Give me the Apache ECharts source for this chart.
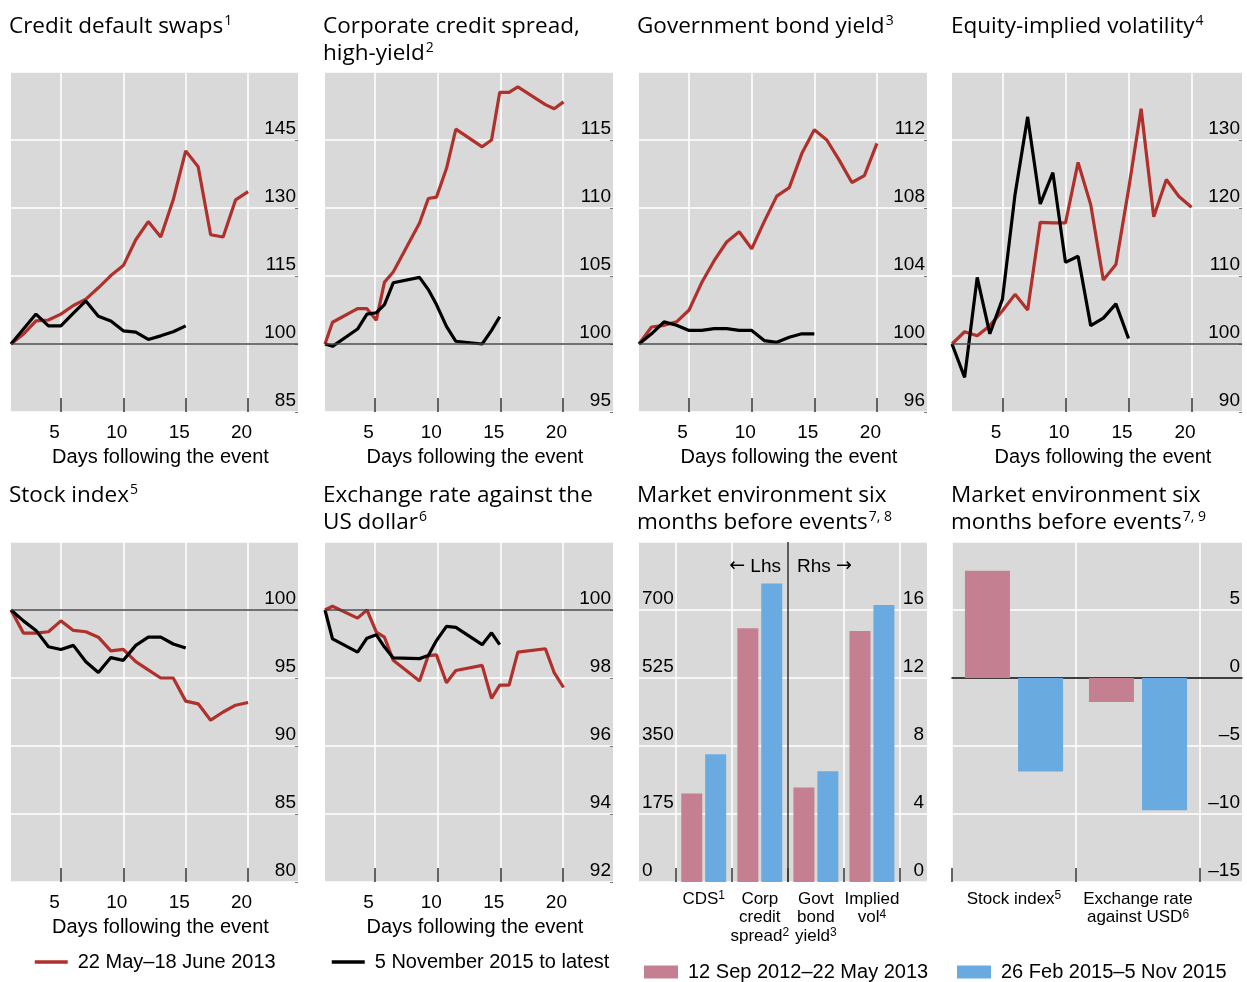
<!DOCTYPE html>
<html>
<head>
<meta charset="utf-8">
<title>Market reactions after two events</title>
<script src="https://cdn.jsdelivr.net/npm/echarts@6/dist/echarts.min.js"></script>
<style>
  html, body { margin: 0; padding: 0; background: #ffffff; }
  #chart { width: 1247px; height: 982px; }
</style>
</head>
<body>
<div id="chart"></div>
<script>
// ---- Series names ----
const LABEL_2013 = '22 May–18 June 2013';
const LABEL_2015 = '5 November 2015 to latest';
const BAR_LABEL_A = '12 Sep 2012–22 May 2013';
const BAR_LABEL_B = '26 Feb 2015–5 Nov 2015';

// ---- Day positions ----
const days2013 = [1, 2, 3, 4, 5, 6, 7, 8, 9, 10, 11, 12, 13, 14, 15, 16, 17, 18, 19, 20];
const days2015 = [1, 2, 3, 4, 5, 6, 7, 8, 9, 10, 11, 12, 13, 14, 15];
// spread and exchange-rate panels are plotted on a calendar-spaced day scale
const calDays2013 = [1, 1.6, 3.6, 4.35, 5.1, 5.75, 6.45, 8.55, 9.25, 9.9, 10.7, 11.45, 13.55, 14.3, 14.95, 15.7, 16.4, 18.6, 19.3, 20.05];
const calDays2015 = [1, 1.6, 3.6, 4.35, 5.1, 5.75, 6.45, 8.55, 9.25, 9.9, 10.7, 11.45, 13.55, 14.3, 14.95];
const dayTicks = [5, 10, 15, 20];

// ---- Indexed paths (event day = 100) ----
const cds2013 = [100, 102.2, 105.1, 105.3, 106.6, 108.5, 109.9, 112.4, 115.1, 117.3, 123.0, 127.0, 123.6, 131.8, 142.6, 139.1, 124.1, 123.6, 131.8, 133.6];
const cds2015 = [100, 103.3, 106.6, 104.0, 104.0, 106.8, 109.5, 106.1, 105.1, 102.9, 102.6, 101.0, 101.8, 102.7, 104.0];

const hy2013 = [100, 101.6, 102.6, 102.6, 101.75, 104.55, 105.3, 108.9, 110.7, 110.8, 112.9, 115.8, 114.5, 115.0, 118.5, 118.5, 118.9, 117.6, 117.3, 117.8];
const hy2015 = [100, 99.83, 101.1, 102.2, 102.3, 102.9, 104.5, 104.9, 104.0, 102.9, 101.3, 100.2, 100.0, 101.0, 102.0];

const govt2013 = [100, 101.0, 101.1, 101.3, 102.0, 103.6, 104.9, 106.0, 106.6, 105.6, 107.2, 108.7, 109.2, 111.2, 112.6, 112.0, 110.8, 109.5, 109.9, 111.8];
const govt2015 = [100, 100.6, 101.3, 101.1, 100.8, 100.8, 100.9, 100.9, 100.8, 100.8, 100.2, 100.1, 100.4, 100.6, 100.6];

const vol2013 = [100, 101.8, 101.2, 102.7, 104.9, 107.3, 105.0, 117.9, 117.8, 117.8, 126.7, 120.5, 109.4, 111.7, 122.7, 134.6, 118.7, 124.2, 121.7, 120.1];
const vol2015 = [100, 95.1, 109.8, 101.5, 106.6, 122.0, 133.4, 120.6, 125.2, 112.0, 112.9, 102.7, 103.8, 105.9, 100.8];

const stock2013 = [100, 98.3, 98.3, 98.4, 99.2, 98.5, 98.4, 98.0, 97.0, 97.1, 96.2, 95.6, 95.0, 95.0, 93.3, 93.1, 91.9, 92.5, 93.0, 93.2];
const stock2015 = [100, 99.2, 98.5, 97.3, 97.1, 97.4, 96.2, 95.4, 96.5, 96.3, 97.4, 98.0, 98.0, 97.5, 97.2];

const fx2013 = [100, 100.11, 99.76, 100.0, 99.35, 99.2, 98.52, 97.91, 98.66, 98.68, 97.86, 98.22, 98.37, 97.40, 97.79, 97.79, 98.76, 98.86, 98.16, 97.72];
const fx2015 = [100, 99.15, 98.76, 99.17, 99.27, 98.91, 98.59, 98.57, 98.66, 99.10, 99.52, 99.49, 98.98, 99.33, 98.98];

// ---- Market environment before the events ----
const riskCats = ['CDS', 'Corp credit spread', 'Govt bond yield', 'Implied vol'];
const riskNotes = ['1', '2', '3', '4'];
const riskLhs2013 = [228, 653];      // CDS, corporate spread (left scale)
const riskLhs2015 = [329, 768];
const riskRhs2013 = [5.56, 14.77];   // govt bond yield, implied vol (right scale)
const riskRhs2015 = [6.52, 16.29];

const mktCats = ['Stock index', 'Exchange rate against USD'];
const mktLines = [['Stock index'], ['Exchange rate', 'against USD']];
const mktNotes = ['5', '6'];
const mkt2013 = [7.88, -1.76];
const mkt2015 = [-6.88, -9.73];

// ---- Style ----
const AXIS_FONT = 'Liberation Sans, Arial, sans-serif';
const TITLE_FONT = 'Open Sans, Noto Sans, sans-serif';
const RED = '#b0302c';
const PINK = '#c48091';
const BLUE = '#69abe0';
const PANEL = '#d9d9d9';
const LINE_W = 3.2;
const COLS = [[11, 298], [325, 613], [639, 927], [952, 1242]];
const ROWS = [[72, 412], [542, 882]];

const txt = { fontFamily: AXIS_FONT, fontSize: 19, color: '#000' };
const txtWide = { fontFamily: AXIS_FONT, fontSize: 20, color: '#000' };
const zip = (xs, ys) => ys.map((v, i) => [xs[i], v]);
const minus = v => String(v).replace('-', '\u2013');

const grids = [], xAxes = [], yAxes = [], series = [];

function panelGrid(col, row, x0, x1, withBg) {
  const left = x0 != null ? x0 : COLS[col][0];
  const right = x1 != null ? x1 : COLS[col][1];
  grids.push({
    left: left, width: right - left,
    top: ROWS[row][0], height: ROWS[row][1] - ROWS[row][0],
    show: !!withBg, backgroundColor: PANEL, borderWidth: 0,
    containLabel: false, outerBoundsMode: 'none'
  });
  return grids.length - 1;
}

function addLinePanel(col, row, yMin, yMax, yStep, xs13, v13, xs15, v15) {
  const gi = panelGrid(col, row, null, null, true);
  const xi = xAxes.push({
    gridIndex: gi, type: 'value', min: 1, max: 24,
    axisLine: { show: false, onZero: false },
    axisTick: { show: true, inside: true, length: 14, customValues: dayTicks, lineStyle: { color: '#333', width: 1.5 } },
    axisLabel: Object.assign({ customValues: dayTicks, margin: 11, padding: [0, 13, 0, 0] }, txt),
    splitLine: { show: true, lineStyle: { color: '#fff', width: 1.5 } },
    name: 'Days following the event', nameLocation: 'middle', nameGap: 35,
    nameTextStyle: Object.assign({ padding: [0, 0, 0, 12] }, txtWide)
  }) - 1;
  const yi = yAxes.push({
    gridIndex: gi, type: 'value', position: 'right', min: yMin, max: yMax, interval: yStep,
    axisLine: { show: false, onZero: false },
    axisTick: { show: true, inside: true, length: 3, lineStyle: { color: '#777' } },
    axisLabel: Object.assign({ inside: true, margin: 2, verticalAlign: 'bottom', padding: [0, 0, 2, 0], showMaxLabel: false }, txt),
    splitLine: { show: true, lineStyle: { color: '#fff', width: 1.5 } }
  }) - 1;
  series.push({
    type: 'line', name: LABEL_2013, xAxisIndex: xi, yAxisIndex: yi,
    data: zip(xs13, v13), symbol: 'none', color: RED,
    lineStyle: { width: LINE_W, color: RED },
    markLine: {
      silent: true, symbol: ['none', 'none'], label: { show: false },
      lineStyle: { color: '#444', width: 1.5, type: 'solid' },
      data: [{ yAxis: 100 }]
    }
  });
  series.push({
    type: 'line', name: LABEL_2015, xAxisIndex: xi, yAxisIndex: yi,
    data: zip(xs15, v15), symbol: 'none', color: '#000',
    lineStyle: { width: LINE_W, color: '#000' }
  });
}

addLinePanel(0, 0, 85, 160, 15, days2013, cds2013, days2015, cds2015);
addLinePanel(1, 0, 95, 120, 5, calDays2013, hy2013, calDays2015, hy2015);
addLinePanel(2, 0, 96, 116, 4, days2013, govt2013, days2015, govt2015);
addLinePanel(3, 0, 90, 140, 10, days2013, vol2013, days2015, vol2015);
addLinePanel(0, 1, 80, 105, 5, days2013, stock2013, days2015, stock2015);
addLinePanel(1, 1, 92, 102, 2, calDays2013, fx2013, calDays2015, fx2015);

// ---- Bar panel: risk measures on two scales ----
const catRich = {
  a: { fontFamily: AXIS_FONT, fontSize: 17, color: '#000', lineHeight: 18.5 },
  s: { fontFamily: AXIS_FONT, fontSize: 12, color: '#000', verticalAlign: 'top', lineHeight: 12 }
};
function catLabel(lines, note) {
  return lines.map((l, i) => '{a|' + l + '}' + (i === lines.length - 1 ? '{s|' + note + '}' : '')).join('\n');
}
const catTick = { show: true, inside: true, length: 14, lineStyle: { color: '#333', width: 1.5 } };

const gA7 = panelGrid(2, 1, null, null, true);
xAxes.push({ gridIndex: gA7, type: 'value', min: 0, max: 1, show: false });
yAxes.push({
  gridIndex: gA7, type: 'value', position: 'left', min: 0, max: 875, interval: 175,
  axisLine: { show: false, onZero: false }, axisTick: { show: false },
  axisLabel: Object.assign({ inside: true, margin: 3, verticalAlign: 'bottom', padding: [0, 0, 2, 0], showMaxLabel: false }, txt),
  splitLine: { show: true, lineStyle: { color: '#fff', width: 1.5 } }
});
yAxes.push({
  gridIndex: gA7, type: 'value', position: 'right', min: 0, max: 20, interval: 4,
  axisLine: { show: false, onZero: false }, axisTick: { show: false },
  axisLabel: Object.assign({ inside: true, margin: 3, verticalAlign: 'bottom', padding: [0, 0, 2, 0], showMaxLabel: false }, txt),
  splitLine: { show: false }
});
const gB7 = panelGrid(2, 1, 675.7, 900, false);
const xB7 = xAxes.push({
  gridIndex: gB7, type: 'category', data: riskCats,
  axisLine: { show: false, onZero: false }, axisTick: catTick,
  axisLabel: {
    interval: 0, margin: 8, rich: catRich,
    formatter: (v, i) => catLabel(v.split(' '), riskNotes[i])
  },
  splitLine: { show: true, lineStyle: { color: ['#fff', '#fff', '#333', '#fff', '#fff'], width: 1.5 } }
}) - 1;
const xB7b = xAxes.push({ gridIndex: gB7, type: 'category', data: riskCats, show: false }) - 1;
const yB7L = yAxes.push({ gridIndex: gB7, type: 'value', min: 0, max: 875, show: false, splitLine: { show: false } }) - 1;
const yB7R = yAxes.push({ gridIndex: gB7, type: 'value', min: 0, max: 20, show: false, splitLine: { show: false } }) - 1;

const pad = (vals, before) => before ? ['-', '-'].concat(vals) : vals.concat(['-', '-']);
const barBase = { type: 'bar', barWidth: 21, barGap: '14%' };
series.push(Object.assign({ name: BAR_LABEL_A, xAxisIndex: xB7, yAxisIndex: yB7L, data: pad(riskLhs2013, false), color: PINK }, barBase));
series.push(Object.assign({ name: BAR_LABEL_B, xAxisIndex: xB7, yAxisIndex: yB7L, data: pad(riskLhs2015, false), color: BLUE }, barBase));
series.push(Object.assign({ name: BAR_LABEL_A, xAxisIndex: xB7b, yAxisIndex: yB7R, data: pad(riskRhs2013, true), color: PINK }, barBase));
series.push(Object.assign({ name: BAR_LABEL_B, xAxisIndex: xB7b, yAxisIndex: yB7R, data: pad(riskRhs2015, true), color: BLUE }, barBase));

// ---- Bar panel: stock index and exchange rate ----
const gA8 = panelGrid(3, 1, null, null, true);
xAxes.push({
  gridIndex: gA8, type: 'value', min: 0, max: 1,
  axisLine: { show: true, onZero: true, lineStyle: { color: '#000', width: 1.5 } },
  axisTick: { show: false }, axisLabel: { show: false }, splitLine: { show: false }
});
yAxes.push({
  gridIndex: gA8, type: 'value', position: 'right', min: -15, max: 10, interval: 5,
  axisLine: { show: false, onZero: false }, axisTick: { show: false },
  axisLabel: Object.assign({ inside: true, margin: 2, verticalAlign: 'bottom', padding: [0, 0, 2, 0], showMaxLabel: false, formatter: minus }, txt),
  splitLine: { show: true, lineStyle: { color: '#fff', width: 1.5 } }
});
const gB8 = panelGrid(3, 1, 952, 1200, false);
const xB8 = xAxes.push({
  gridIndex: gB8, type: 'category', data: mktCats,
  axisLine: { show: false, onZero: false }, axisTick: catTick,
  axisLabel: { interval: 0, margin: 8, rich: catRich, formatter: (v, i) => catLabel(mktLines[i], mktNotes[i]) },
  splitLine: { show: true, lineStyle: { color: '#fff', width: 1.5 } }
}) - 1;
const yB8 = yAxes.push({ gridIndex: gB8, type: 'value', min: -15, max: 10, show: false, splitLine: { show: false } }) - 1;
const mktBase = { type: 'bar', barWidth: 45, barGap: '18%' };
series.push(Object.assign({ name: BAR_LABEL_A, xAxisIndex: xB8, yAxisIndex: yB8, data: mkt2013, color: PINK }, mktBase));
series.push(Object.assign({ name: BAR_LABEL_B, xAxisIndex: xB8, yAxisIndex: yB8, data: mkt2015, color: BLUE }, mktBase));

// ---- Panel titles ----
const titleRich = {
  t: { fontFamily: TITLE_FONT, fontSize: 22.5, color: '#000', lineHeight: 27 },
  s: { fontFamily: TITLE_FONT, fontSize: 14, color: '#000', verticalAlign: 'top', lineHeight: 14, padding: [1, 0, 0, 1] }
};
function panelTitle(x, y, lines, note) {
  return {
    left: x, top: y, padding: 0,
    text: lines.map((l, i) => '{t|' + l + '}' + (i === lines.length - 1 ? '{s|' + note + '}' : '')).join('\n'),
    textStyle: { rich: titleRich, fontWeight: 'normal' }
  };
}
const arrowRich = {
  ar: { fontFamily: 'DejaVu Sans', fontSize: 19, color: '#000' },
  w: { fontFamily: AXIS_FONT, fontSize: 19, color: '#000' }
};
const titles = [
  panelTitle(9, 13.5, ['Credit default swaps'], '1'),
  panelTitle(323, 13.5, ['Corporate credit spread,', 'high-yield'], '2'),
  panelTitle(637, 13.5, ['Government bond yield'], '3'),
  panelTitle(951, 13.5, ['Equity-implied volatility'], '4'),
  panelTitle(9, 482.5, ['Stock index'], '5'),
  panelTitle(323, 482.5, ['Exchange rate against the', 'US dollar'], '6'),
  panelTitle(637, 482.5, ['Market environment six', 'months before events'], '7, 8'),
  panelTitle(951, 482.5, ['Market environment six', 'months before events'], '7, 9'),
  { right: 1247 - 781, top: 557, padding: 0, text: '{ar|\u2190}{w| Lhs}', textStyle: { rich: arrowRich, fontWeight: 'normal' } },
  { left: 797, top: 557, padding: 0, text: '{w|Rhs }{ar|\u2192}', textStyle: { rich: arrowRich, fontWeight: 'normal' } }
];

// ---- Legends ----
const legendText = Object.assign({ padding: [0, 0, 0, 5] }, txtWide);
const lineLegend = { padding: 0, itemWidth: 33, itemHeight: 14, textStyle: legendText, selectedMode: false,
  itemStyle: { opacity: 0 }, lineStyle: { width: 3.5 } };
const barLegend = { padding: 0, icon: 'rect', itemWidth: 34, itemHeight: 13, textStyle: legendText, selectedMode: false };
const legends = [
  Object.assign({ data: [LABEL_2013], left: 33, top: 952 }, lineLegend),
  Object.assign({ data: [LABEL_2015], left: 330, top: 952 }, lineLegend),
  Object.assign({ data: [BAR_LABEL_A], left: 644, top: 962 }, barLegend),
  Object.assign({ data: [BAR_LABEL_B], left: 957, top: 962 }, barLegend)
];

const chart = echarts.init(document.getElementById('chart'), null, { renderer: 'canvas' });
chart.setOption({
  animation: false,
  backgroundColor: '#ffffff',
  title: titles,
  legend: legends,
  grid: grids,
  xAxis: xAxes,
  yAxis: yAxes,
  series: series
});
</script>
</body>
</html>
